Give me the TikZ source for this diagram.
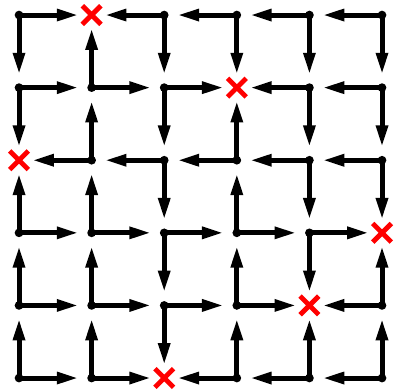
\documentclass[tikz,border=0pt]{standalone}
\usepackage{tikz}
\usetikzlibrary{arrows.meta,shapes.misc}
\tikzset{
  gridpt/.style={circle,fill=black,inner sep=0pt,minimum size=0.12cm},
  sinkpt/.style={cross out,draw=red,line width=1.9pt,inner sep=0pt,
    minimum size=0.19cm},
  flowarrow/.style={-{Triangle[length=0.30cm,width=0.155cm]},
    line width=1.95pt,draw=black,shorten >=0.18cm},
}
\begin{document}
\begin{tikzpicture}
  \useasboundingbox (-0.262,-5.165) rectangle (5.165,0.207);
  % sinks
  \foreach \i/\j in {1/0,3/1,0/2,5/3,4/4,2/5}
    \node[sinkpt] (p\i\j) at (\i,-\j) {};
  % ordinary grid points, row by row
  \foreach \j/\row in {0/{0,2,3,4,5},1/{0,1,2,4,5},2/{1,2,3,4,5},
                       3/{0,1,2,3,4},4/{0,1,2,3,5},5/{0,1,3,4,5}}
    \foreach \i in \row
      \node[gridpt] (p\i\j) at (\i,-\j) {};
  % flow directions
  \foreach \a/\b in {00/10,00/01,20/10,20/21,30/20,30/31,40/30,40/41,50/40,50/51,
                     01/11,01/02,11/10,11/21,21/31,21/22,41/31,41/42,51/41,51/52,
                     12/02,12/11,22/12,22/23,32/22,32/31,42/32,42/43,52/42,52/53,
                     03/02,03/13,13/12,13/23,23/33,23/24,33/32,33/43,43/53,43/44,
                     04/03,04/14,14/13,14/24,24/34,24/25,34/33,34/44,54/44,54/53,
                     05/04,05/15,15/14,15/25,35/34,35/25,45/44,45/35,55/54,55/45}
    \draw[flowarrow] (p\a.center) -- (p\b.center);
\end{tikzpicture}
\end{document}
